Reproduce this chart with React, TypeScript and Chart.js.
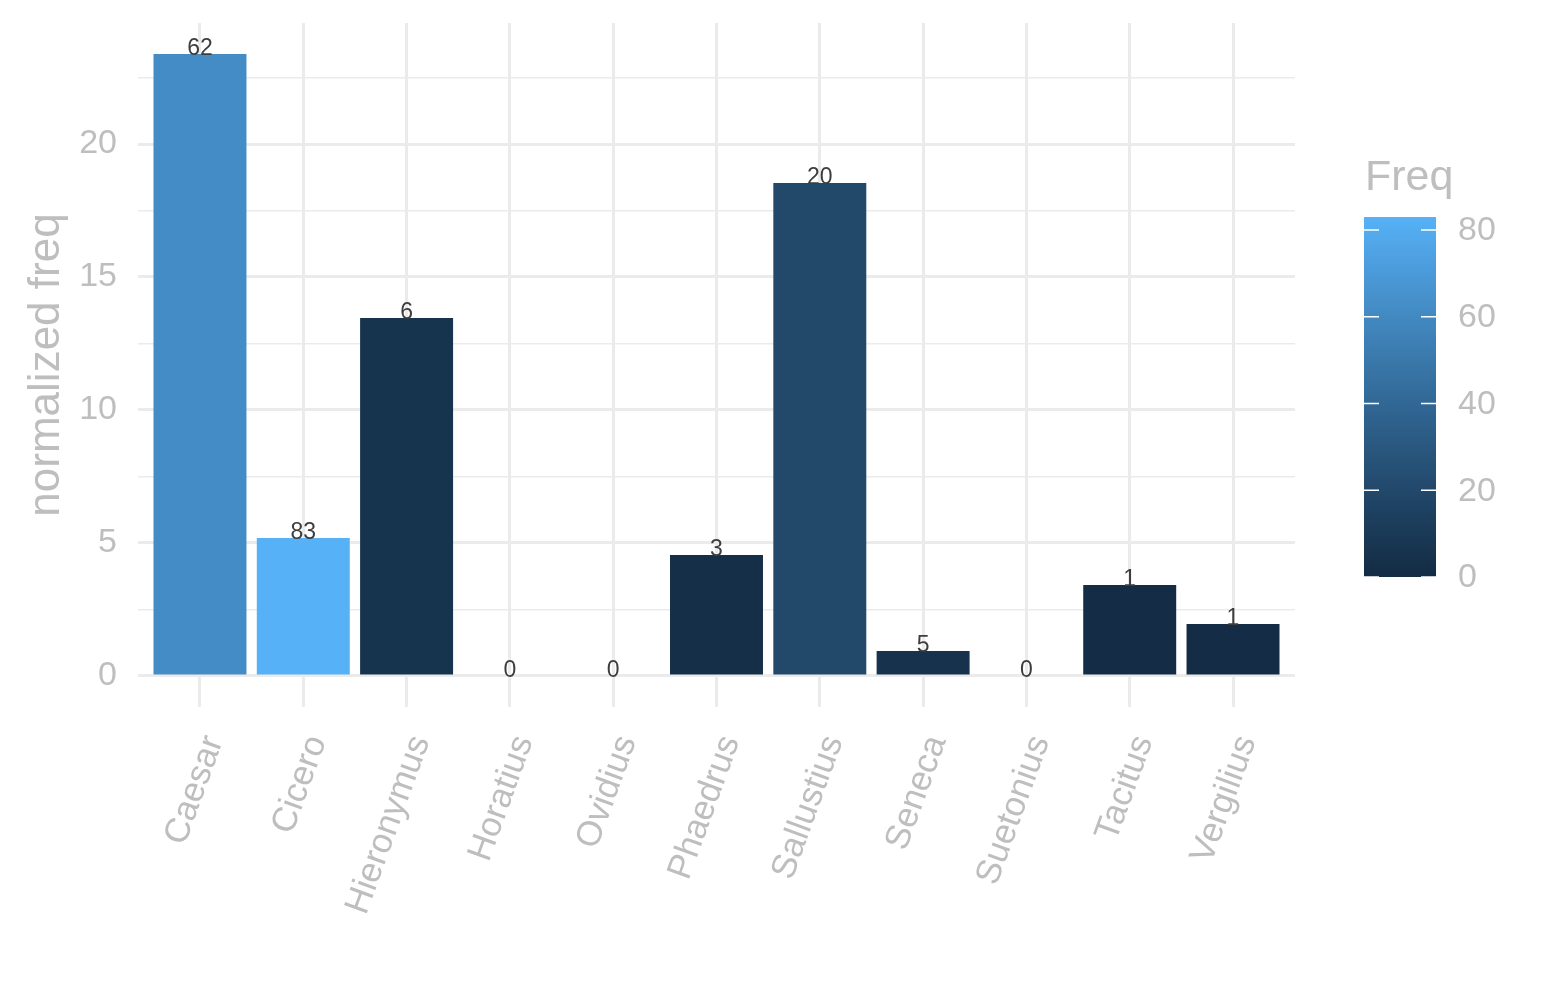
import { useEffect, useRef } from "react"
import { Chart, registerables } from "chart.js"

Chart.register(...registerables)

// data
const authors = ["Caesar", "Cicero", "Hieronymus", "Horatius", "Ovidius", "Phaedrus", "Sallustius", "Seneca", "Suetonius", "Tacitus", "Vergilius"]
const normFreq = [23.38, 5.19, 13.46, 0, 0, 4.55, 18.53, 0.94, 0, 3.42, 1.95]
const freq = [62, 83, 6, 0, 0, 3, 20, 5, 0, 1, 1]
const yTicks = [0, 2.5, 5, 7.5, 10, 12.5, 15, 17.5, 20, 22.5]
const legendTicks = [0, 20, 40, 60, 80]

const LOW = "#132B43"
const HIGH = "#56B1F7"
const GRID = "#EBEBEB"
const AXIS_TEXT = "#BEBEBE"
const FONT = "'Liberation Sans', Arial, Helvetica, sans-serif"

Chart.defaults.font.family = FONT

// colour ramp in CIELAB, like ggplot's scale_fill_gradient
function hexToRgb(h: string) {
  return [1, 3, 5].map((i) => parseInt(h.slice(i, i + 2), 16))
}
function toLinear(c: number) {
  c /= 255
  return c <= 0.04045 ? c / 12.92 : Math.pow((c + 0.055) / 1.055, 2.4)
}
function fromLinear(c: number) {
  const v = c <= 0.0031308 ? 12.92 * c : 1.055 * Math.pow(c, 1 / 2.4) - 0.055
  return Math.round(Math.max(0, Math.min(1, v)) * 255)
}
function rgbToLab(rgb: number[]) {
  const [r, g, b] = rgb.map(toLinear)
  const x = (r * 0.4124564 + g * 0.3575761 + b * 0.1804375) / 0.95047
  const y = r * 0.2126729 + g * 0.7151522 + b * 0.072175
  const z = (r * 0.0193339 + g * 0.119192 + b * 0.9503041) / 1.08883
  const f = (t: number) => (t > 216 / 24389 ? Math.cbrt(t) : ((24389 / 27) * t + 16) / 116)
  const fx = f(x), fy = f(y), fz = f(z)
  return [116 * fy - 16, 500 * (fx - fy), 200 * (fy - fz)]
}
function labToRgb(lab: number[]) {
  const [L, a, b] = lab
  const fy = (L + 16) / 116
  const fx = fy + a / 500
  const fz = fy - b / 200
  const inv = (t: number) => (t * t * t > 216 / 24389 ? t * t * t : (116 * t - 16) / (24389 / 27))
  const x = inv(fx) * 0.95047, y = inv(fy), z = inv(fz) * 1.08883
  const r = 3.2404542 * x - 1.5371385 * y - 0.4985314 * z
  const g = -0.969266 * x + 1.8760108 * y + 0.041556 * z
  const bb = 0.0556434 * x - 0.2040259 * y + 1.0572252 * z
  return [r, g, bb].map(fromLinear)
}
const labLow = rgbToLab(hexToRgb(LOW))
const labHigh = rgbToLab(hexToRgb(HIGH))
const freqMax = Math.max(...freq)
function rampColor(t: number) {
  const lab = labLow.map((v, i) => v + (labHigh[i] - v) * t)
  const [r, g, b] = labToRgb(lab)
  return `rgb(${r}, ${g}, ${b})`
}

// frequency labels on top of each bar
const barLabels = {
  id: "barLabels",
  afterDatasetsDraw(chart: Chart) {
    const { ctx } = chart
    const meta = chart.getDatasetMeta(0)
    ctx.save()
    ctx.font = `23px ${FONT}`
    ctx.fillStyle = "#3d3d3d"
    ctx.textAlign = "center"
    ctx.textBaseline = "alphabetic"
    meta.data.forEach((bar: any, i: number) => {
      ctx.fillText(String(freq[i]), bar.x, bar.y + 1)
    })
    ctx.restore()
  },
}

// colourbar legend on the right
const colorbar = {
  id: "colorbar",
  afterDraw(chart: Chart) {
    const { ctx } = chart
    const left = 1364
    const width = 72
    const bottom = 577
    const top = 217
    const pxPer = (bottom - top) / freqMax
    ctx.save()
    const grad = ctx.createLinearGradient(0, bottom, 0, top)
    for (let i = 0; i <= 20; i++) grad.addColorStop(i / 20, rampColor(i / 20))
    ctx.fillStyle = grad
    ctx.fillRect(left, top, width, bottom - top)

    ctx.strokeStyle = "#ffffff"
    ctx.lineWidth = 1.4
    ctx.font = `34px ${FONT}`
    ctx.fillStyle = AXIS_TEXT
    ctx.textAlign = "left"
    ctx.textBaseline = "middle"
    legendTicks.forEach((v) => {
      const y = bottom - v * pxPer
      ctx.beginPath()
      ctx.moveTo(left, y)
      ctx.lineTo(left + 15, y)
      ctx.moveTo(left + width - 15, y)
      ctx.lineTo(left + width, y)
      ctx.stroke()
      ctx.fillText(String(v), 1458, y + 1)
    })

    ctx.font = `43px ${FONT}`
    ctx.textBaseline = "alphabetic"
    ctx.fillText("Freq", 1365, 190)
    ctx.restore()
  },
}

export default function App() {
  const chartRef = useRef<HTMLCanvasElement>(null)
  const chartInstance = useRef<Chart | null>(null)

  useEffect(() => {
    if (!chartRef.current) return
    if (chartInstance.current) chartInstance.current.destroy()
    const ctx = chartRef.current.getContext("2d")
    if (!ctx) return

    chartInstance.current = new Chart(ctx, {
      type: "bar",
      data: {
        datasets: [
          {
            data: normFreq.map((v, i) => ({ x: i, y: v })),
            backgroundColor: freq.map((f) => rampColor(f / freqMax)),
            borderWidth: 0,
            categoryPercentage: 1,
            barPercentage: 0.9,
          },
        ],
      },
      options: {
        animation: false,
        responsive: true,
        maintainAspectRatio: false,
        layout: { padding: { top: 23, right: 250, left: 0, bottom: 0 } },
        plugins: {
          legend: { display: false },
          tooltip: { enabled: false },
        },
        scales: {
          x: {
            type: "linear",
            min: -0.6,
            max: authors.length - 0.4,
            offset: false,
            grid: { offset: false, color: GRID, lineWidth: 3, drawTicks: false },
            border: { display: false },
            ticks: {
              autoSkip: false,
              minRotation: 70,
              maxRotation: 70,
              color: AXIS_TEXT,
              font: { size: 35 },
              padding: 23,
              labelOffset: 14,
              callback: (v: any) => authors[v] ?? "",
            },
            afterBuildTicks: (s: any) => {
              s.ticks = authors.map((_, i) => ({ value: i }))
            },
            afterFit: (s: any) => {
              s.height = 293
              s.paddingLeft = 0
              s.paddingRight = 0
            },
          },
          y: {
            min: -1.169,
            max: 24.55,
            grid: {
              color: GRID,
              lineWidth: (c: any) => (c.tick && c.tick.value % 5 === 0 ? 3 : 1.6),
              drawTicks: false,
            },
            border: { display: false },
            ticks: {
              color: AXIS_TEXT,
              font: { size: 34 },
              padding: 21,
              callback: (v: any) => (v % 5 === 0 ? String(v) : ""),
            },
            afterBuildTicks: (s: any) => {
              s.ticks = yTicks.map((v) => ({ value: v }))
            },
            afterFit: (s: any) => {
              s.width = 138
              s.paddingTop = 0
              s.paddingBottom = 0
            },
            title: {
              display: true,
              text: "normalized freq",
              color: AXIS_TEXT,
              font: { size: 44 },
              padding: { top: 20, bottom: 0 },
            },
          },
        },
      },
      plugins: [barLabels, colorbar],
    })

    return () => {
      if (chartInstance.current) {
        chartInstance.current.destroy()
        chartInstance.current = null
      }
    }
  }, [])

  return (
    <div style={{ position: "absolute", left: 0, top: 0, width: 1545, height: 1000, background: "#fff" }}>
      <canvas ref={chartRef} />
    </div>
  )
}
